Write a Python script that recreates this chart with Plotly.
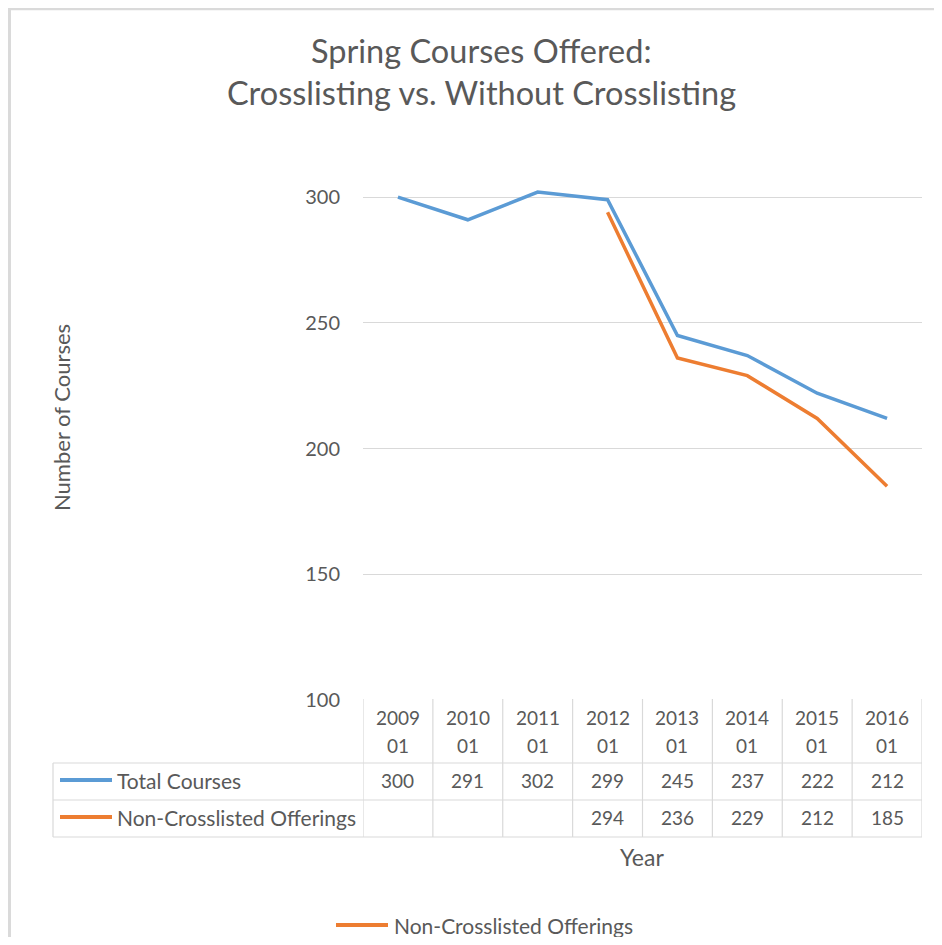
import plotly.graph_objects as go

# ---- data ----
categories = ["2009 01", "2010 01", "2011 01", "2012 01", "2013 01", "2014 01", "2015 01", "2016 01"]
total_courses = [300, 291, 302, 299, 245, 237, 222, 212]
non_crosslisted = [None, None, None, 294, 236, 229, 212, 185]
series_names = ["Total Courses", "Non-Crosslisted Offerings"]
y_ticks = [100, 150, 200, 250, 300]
title_lines = ["Spring Courses Offered:", "Crosslisting vs. Without Crosslisting"]
y_title = "Number of Courses"
x_title = "Year"

# ---- style ----
BLUE = "#5B9BD5"
ORANGE = "#ED7D31"
TXT = "#595959"
GRID = "#D9D9D9"
FONT = "Lato"

# page has an 8px body margin, so the figure is shifted by OFF
OFF = 8
W, H = 942 - OFF, 945 - 2 * OFF
L, R, T, B = 363, 922, 172, 700  # plot area in reference pixels


def px_x(p):
    return (p - L) / (R - L)


def px_y(p):
    return (B - p) / (B - T)


fig = go.Figure()
series_vals = [total_courses, non_crosslisted]
colors = [BLUE, ORANGE]
for name, vals, col in zip(series_names, series_vals, colors):
    fig.add_trace(go.Scatter(
        x=categories, y=vals, name=name, mode="lines",
        line=dict(color=col, width=3.5), connectgaps=False,
        hoverinfo="skip",
    ))

shapes = []
annotations = []

# chart border (grey frame)
shapes.append(dict(type="line", xref="paper", yref="paper",
                   x0=px_x(9.5), x1=px_x(960), y0=px_y(9), y1=px_y(9),
                   line=dict(color="#DADADA", width=2.5)))
shapes.append(dict(type="line", xref="paper", yref="paper",
                   x0=px_x(9.5), x1=px_x(9.5), y0=px_y(8), y1=px_y(960),
                   line=dict(color="#DADADA", width=3)))

# ---- data table ----
hdr_top, hdr_bot, row1_bot, row2_bot = 699, 763, 800, 837
tbl_left = 53
n = len(categories)
for i in range(n + 1):
    shapes.append(dict(type="line", xref="x", yref="paper",
                       x0=i - 0.5, x1=i - 0.5, y0=px_y(hdr_top), y1=px_y(row2_bot),
                       line=dict(color=GRID, width=1.2)))
shapes.append(dict(type="line", xref="paper", yref="paper",
                   x0=px_x(tbl_left), x1=px_x(tbl_left), y0=px_y(hdr_bot), y1=px_y(row2_bot),
                   line=dict(color=GRID, width=1.2)))
for yy in (hdr_bot, row1_bot, row2_bot):
    shapes.append(dict(type="line", xref="paper", yref="paper",
                       x0=px_x(tbl_left), x1=1, y0=px_y(yy), y1=px_y(yy),
                       line=dict(color=GRID, width=1.2)))

NUM = 19
LBL = 21

# header cells
for c in categories:
    top, bottom = c.split(" ")
    annotations.append(dict(x=c, xref="x", y=px_y(717), yref="paper", text=top,
                            showarrow=False, xanchor="center", yanchor="middle",
                            font=dict(family=FONT, size=NUM, color=TXT)))
    annotations.append(dict(x=c, xref="x", y=px_y(745), yref="paper", text=bottom,
                            showarrow=False, xanchor="center", yanchor="middle",
                            font=dict(family=FONT, size=NUM, color=TXT)))

# value rows
row_centers = [780, 817]
for name, vals, col, yc in zip(series_names, series_vals, colors, row_centers):
    shapes.append(dict(type="line", xref="paper", yref="paper",
                       x0=px_x(60), x1=px_x(112), y0=px_y(yc), y1=px_y(yc),
                       line=dict(color=col, width=4)))
    annotations.append(dict(x=px_x(115), xref="paper", y=px_y(yc), yref="paper",
                            text=name, showarrow=False, xanchor="left", yanchor="middle",
                            font=dict(family=FONT, size=LBL, color=TXT)))
    for c, v in zip(categories, vals):
        if v is None:
            continue
        annotations.append(dict(x=c, xref="x", y=px_y(yc), yref="paper", text=str(v),
                                showarrow=False, xanchor="center", yanchor="middle",
                                font=dict(family=FONT, size=NUM, color=TXT)))

# axis titles
annotations.append(dict(x=px_x(61), xref="paper", y=px_y(418), yref="paper",
                        text=y_title, textangle=-90, showarrow=False,
                        xanchor="center", yanchor="middle",
                        font=dict(family=FONT, size=22, color=TXT)))
annotations.append(dict(x=px_x(642), xref="paper", y=px_y(857), yref="paper",
                        text=x_title, showarrow=False, xanchor="center", yanchor="middle",
                        font=dict(family=FONT, size=23, color=TXT)))

# chart title (two lines)
for line_text, yc in zip(title_lines, [50, 93]):
    annotations.append(dict(x=px_x(481), xref="paper", y=px_y(yc), yref="paper",
                            text=line_text, showarrow=False, xanchor="center", yanchor="middle",
                            font=dict(family=FONT, size=32.5, color=TXT)))

# bottom legend (only the second series, as in the source)
shapes.append(dict(type="line", xref="paper", yref="paper",
                   x0=px_x(336), x1=px_x(388), y0=px_y(925), y1=px_y(925),
                   line=dict(color=ORANGE, width=4)))
annotations.append(dict(x=px_x(392), xref="paper", y=px_y(925), yref="paper",
                        text=series_names[1], showarrow=False, xanchor="left", yanchor="middle",
                        font=dict(family=FONT, size=LBL, color=TXT)))

fig.update_layout(
    width=W, height=H,
    margin=dict(l=L - OFF, r=W - (R - OFF), t=T - OFF, b=H - (B - OFF), pad=0),
    paper_bgcolor="white", plot_bgcolor="white",
    showlegend=False,
    shapes=shapes, annotations=annotations,
    font=dict(family=FONT, color=TXT),
)
fig.update_xaxes(type="category", categoryorder="array", categoryarray=categories,
                 range=[-0.5, n - 0.5], showticklabels=False, showgrid=False,
                 zeroline=False, showline=False, ticks="")
fig.update_yaxes(range=[100, 310], tickvals=y_ticks, showgrid=True, gridcolor=GRID,
                 gridwidth=1.2, zeroline=False, showline=False, ticks="",
                 ticklabelstandoff=22,
                 tickfont=dict(family=FONT, size=20, color=TXT))

fig.write_html("out.html")
